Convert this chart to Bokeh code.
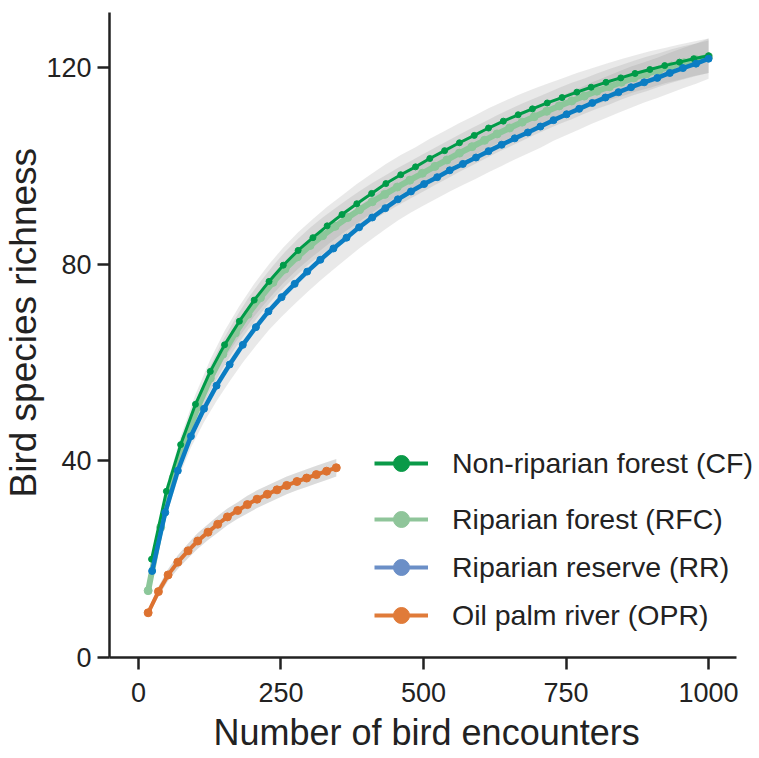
import numpy as np
from bokeh.plotting import figure
from bokeh.models import ColumnDataSource, Range1d, FixedTicker, Legend, LegendItem, Title
from bokeh.embed import file_html
from bokeh.resources import INLINE

# Rarefaction / extrapolation curves of bird species richness
cf_x = [23, 49, 74, 100, 126, 151, 177, 203, 229, 254, 280, 306, 331, 357, 383, 409, 434, 460, 486, 511,
        537, 563, 589, 614, 640, 666, 691, 717, 743, 769, 794, 820, 846, 871, 897, 923, 949, 974, 1000]
cf_y = [20.0, 33.8, 43.3, 51.5, 58.2, 63.6, 68.4, 72.7, 76.5, 79.8, 82.8, 85.4, 87.8, 90.1, 92.3, 94.4, 96.4,
        98.2, 99.8, 101.5, 103.1, 104.7, 106.2, 107.7, 109.1, 110.4, 111.6, 112.8, 113.9, 115.0, 116.0, 117.0,
        117.9, 118.8, 119.6, 120.4, 121.1, 121.8, 122.4]
cf_ci = [0.6, 1.1, 1.6, 2.0, 2.4, 2.8, 3.1, 3.3, 3.5, 3.6, 3.7, 3.8, 3.9, 3.9, 4.0, 4.0, 4.0, 4.0, 4.0, 4.0,
         4.0, 4.0, 4.0, 4.0, 4.0, 4.0, 4.0, 3.9, 3.9, 3.9, 3.8, 3.8, 3.8, 3.7, 3.7, 3.6, 3.6, 3.5, 3.5]

rfc_x = [17, 39, 61, 83, 104, 126, 148, 170, 192, 214, 236, 257, 279, 301, 323, 345, 367, 388, 410, 432,
         454, 476, 498, 520, 541, 563, 585, 607, 629, 651, 673, 694, 716, 738, 760, 782, 804, 826, 847, 869,
         891, 913, 935, 957, 978, 1000]
rfc_y = [13.6, 26.5, 36.5, 44.5, 50.9, 56.8, 61.7, 66.0, 69.8, 73.2, 76.3, 79.0, 81.5, 83.8, 85.8, 87.7,
         89.5, 91.1, 92.7, 94.2, 95.7, 97.1, 98.5, 99.9, 101.2, 102.6, 103.9, 105.2, 106.5, 107.7, 108.9,
         110.0, 111.1, 112.2, 113.2, 114.2, 115.2, 116.1, 117.0, 117.9, 118.7, 119.5, 120.3, 121.0, 121.6, 122.2]
rfc_ci = [0.5, 0.9, 1.4, 1.8, 2.2, 2.5, 2.8, 3.0, 3.2, 3.3, 3.4, 3.5, 3.6, 3.6, 3.7, 3.7, 3.7, 3.8, 3.8, 3.8,
          3.8, 3.8, 3.8, 3.8, 3.8, 3.8, 3.8, 3.8, 3.8, 3.8, 3.8, 3.7, 3.7, 3.7, 3.7, 3.6, 3.6, 3.6, 3.5, 3.5,
          3.5, 3.4, 3.4, 3.4, 3.3, 3.3]

rr_x = [24, 47, 69, 92, 115, 137, 160, 183, 206, 228, 251, 274, 296, 319, 342, 365, 387, 410, 433, 455,
        478, 501, 524, 546, 569, 592, 614, 637, 660, 683, 705, 728, 751, 773, 796, 819, 842, 864, 887, 910,
        932, 955, 978, 1000]
rr_y = [17.6, 29.5, 38.0, 45.0, 50.6, 55.3, 59.6, 63.6, 67.2, 70.4, 73.3, 76.0, 78.5, 80.9, 83.2, 85.4,
        87.5, 89.5, 91.4, 93.2, 94.8, 96.3, 97.7, 99.1, 100.4, 101.7, 103.0, 104.3, 105.6, 106.8, 108.0,
        109.3, 110.5, 111.6, 112.8, 113.9, 115.0, 116.0, 117.0, 117.9, 118.9, 119.9, 120.8, 121.8]
rr_ci = [0.6, 1.2, 1.8, 2.3, 2.7, 3.1, 3.4, 3.6, 3.8, 3.9, 4.0, 4.1, 4.2, 4.2, 4.3, 4.3, 4.3, 4.3, 4.3, 4.3,
         4.3, 4.3, 4.3, 4.3, 4.3, 4.3, 4.3, 4.3, 4.3, 4.3, 4.3, 4.2, 4.2, 4.2, 4.2, 4.2, 4.2, 4.2, 4.1, 4.1,
         4.1, 4.1, 4.1, 4.1]

opr_x = [17, 35, 52, 69, 87, 104, 122, 139, 156, 174, 191, 208, 226, 243, 260, 278, 295, 312, 330, 347]
opr_y = [9.1, 13.4, 16.8, 19.4, 21.7, 23.7, 25.5, 27.1, 28.6, 29.9, 31.1, 32.2, 33.2, 34.1, 35.0, 35.8,
         36.5, 37.2, 37.9, 38.6]
opr_ci = [0.7, 1.0, 1.2, 1.4, 1.5, 1.6, 1.6, 1.7, 1.7, 1.7, 1.8, 1.8, 1.8, 1.8, 1.8, 1.8, 1.8, 1.8, 1.8, 1.8]

x_ticks = [0, 250, 500, 750, 1000]
y_ticks = [0, 40, 80, 120]

FONT = "Liberation Sans"
INK = "#222222"

p = figure(width=759, height=758,
           x_range=Range1d(-50.8, 1089.3), y_range=Range1d(0, 131.2),
           min_border_left=108, min_border_right=0, min_border_top=12, min_border_bottom=101,
           output_backend="svg", toolbar_location=None)
p.outline_line_color = None
p.xgrid.grid_line_color = None
p.ygrid.grid_line_color = None
p.background_fill_color = "white"
p.border_fill_color = "white"


def band(xs, ys, ci, alpha):
    y = np.array(ys)
    h = np.array(ci)
    p.varea(x=xs, y1=y - h, y2=y + h, fill_color="#7f7f7f", fill_alpha=alpha)


band(rr_x, rr_y, rr_ci, 0.17)
band(rfc_x, rfc_y, rfc_ci, 0.17)
band(cf_x, cf_y, cf_ci, 0.17)
band(opr_x, opr_y, opr_ci, 0.28)

series = [
    (rfc_x, rfc_y, "#8cc79a", 6, 8),
    (cf_x, cf_y, "#009b48", 3, 6),
    (rr_x, rr_y, "#0b7dc3", 4.5, 7),
    (opr_x, opr_y, "#dd7230", 4, 8),
]
for xs, ys, col, lw, ms in series:
    src = ColumnDataSource(dict(x=xs, y=ys))
    p.line("x", "y", source=src, line_color=col, line_width=lw)
    p.scatter("x", "y", source=src, size=ms, fill_color=col, line_color=col)

# legend entries (glyph-only renderers with no plotted point)
legend_styles = [
    ("Non-riparian forest (CF)", "#0a9a48"),
    ("Riparian forest (RFC)", "#8fc59a"),
    ("Riparian reserve (RR)", "#6b8fc7"),
    ("Oil palm river (OPR)", "#e07b39"),
]
items = []
for label, col in legend_styles:
    key = ColumnDataSource(dict(x=[np.nan], y=[np.nan]))
    r1 = p.line("x", "y", source=key, line_color=col, line_width=4)
    r2 = p.scatter("x", "y", source=key, fill_color=col, line_color=col)
    items.append(LegendItem(label=label, renderers=[r1, r2]))


def make_legend(its, loc):
    lg = Legend(items=its, location=loc, orientation="vertical",
                glyph_width=54, glyph_height=40, label_height=40, spacing=8,
                label_standoff=24, padding=0, margin=0,
                label_text_font=FONT, label_text_font_size="28.5px", label_text_color=INK,
                border_line_color=None, background_fill_alpha=0)
    p.add_layout(lg, "center")


make_legend(items[:1], (265, 174))
make_legend(items[1:], (265, 22))

for ax in (p.xaxis[0], p.yaxis[0]):
    ax.axis_line_width = 2.5
    ax.axis_line_color = INK
    ax.major_tick_line_width = 2.5
    ax.major_tick_line_color = INK
    ax.major_tick_out = 12
    ax.major_tick_in = 0
    ax.minor_tick_line_color = None
    ax.major_label_text_font = FONT
    ax.major_label_text_font_size = "27px"
    ax.major_label_text_color = INK

p.xaxis.bounds = (-50.8, 1049.0)
p.xaxis.ticker = FixedTicker(ticks=x_ticks)
p.yaxis.ticker = FixedTicker(ticks=y_ticks)
p.xaxis.major_label_standoff = 13
p.yaxis.major_label_standoff = 6

# axis titles
x_title = Title(text="Number of bird encounters", align="left", offset=104, standoff=10,
                text_font=FONT, text_font_size="36px", text_font_style="normal", text_color=INK)
y_title = Title(text="Bird species richness", align="left", offset=160, standoff=0,
                text_font=FONT, text_font_size="37px", text_font_style="normal", text_color=INK)
p.add_layout(x_title, "below")
p.add_layout(y_title, "left")

open("out.html", "w").write(file_html(p, INLINE))
